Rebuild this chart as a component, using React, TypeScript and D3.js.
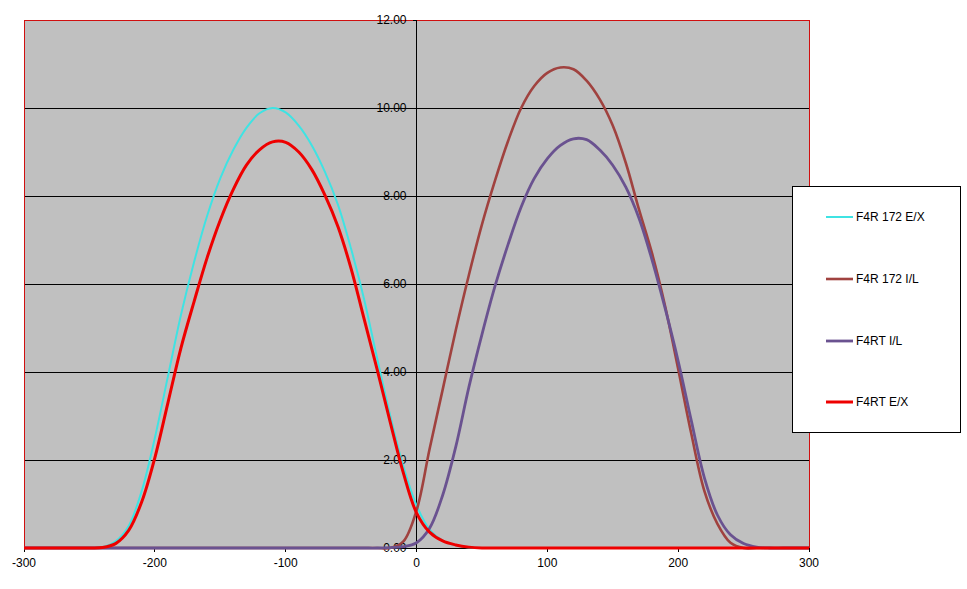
import React from "react";
import * as d3 from "d3";

// cam angle (deg) sampled every 10
const angles: number[] = d3.range(-300, 301, 10);

// lift values, one per angle from -300 to 300
const f4r172EX: number[] = [
  0, 0, 0, 0, 0, 0, 0.02, 0.15, 0.5, 1.3, 2.5, 3.9, 5.3, 6.5, 7.55, 8.4, 9.05, 9.55, 9.88, 10.0,
  9.9, 9.6, 9.15, 8.55, 7.8, 6.8, 5.65, 4.3, 3.0, 1.85, 0.97, 0.42, 0.17, 0.06, 0.01, 0, 0, 0, 0, 0,
  0, 0, 0, 0, 0, 0, 0, 0, 0, 0, 0, 0, 0, 0, 0, 0, 0, 0, 0, 0, 0,
];
const f4r172IL: number[] = [
  0, 0, 0, 0, 0, 0, 0, 0, 0, 0, 0, 0, 0, 0, 0, 0, 0, 0, 0, 0,
  0, 0, 0, 0, 0, 0, 0, 0, 0, 0.15, 0.85, 2.25, 3.6, 4.95, 6.2, 7.35, 8.35, 9.25, 10.0, 10.5,
  10.8, 10.92, 10.88, 10.62, 10.2, 9.6, 8.75, 7.7, 6.7, 5.5, 4.07, 2.6, 1.3, 0.55, 0.12, 0, 0, 0, 0, 0, 0,
];
const f4rtIL: number[] = [
  0, 0, 0, 0, 0, 0, 0, 0, 0, 0, 0, 0, 0, 0, 0, 0, 0, 0, 0, 0,
  0, 0, 0, 0, 0, 0, 0, 0, 0.01, 0.03, 0.12, 0.45, 1.2, 2.3, 3.65, 4.85, 5.95, 6.9, 7.75, 8.4,
  8.85, 9.15, 9.3, 9.28, 9.05, 8.7, 8.2, 7.5, 6.55, 5.45, 4.25, 2.9, 1.6, 0.75, 0.3, 0.1, 0.02, 0, 0, 0, 0,
];
const f4rtEX: number[] = [
  0, 0, 0, 0, 0, 0, 0.01, 0.1, 0.4, 1.05, 2.05, 3.3, 4.55, 5.6, 6.6, 7.45, 8.15, 8.7, 9.05, 9.23,
  9.22, 9.0, 8.6, 8.02, 7.3, 6.35, 5.2, 4.05, 2.85, 1.7, 0.8, 0.36, 0.16, 0.07, 0.02, 0, 0, 0, 0, 0,
  0, 0, 0, 0, 0, 0, 0, 0, 0, 0, 0, 0, 0, 0, 0, 0, 0, 0, 0, 0, 0,
];

const seriesNames: string[] = ["F4R 172 E/X", "F4R 172 I/L", "F4RT I/L", "F4RT E/X"];
const seriesValues: number[][] = [f4r172EX, f4r172IL, f4rtIL, f4rtEX];
const seriesColors: string[] = ["#3FE3E3", "#A0423F", "#6A5290", "#EE0000"];
const seriesWidths: number[] = [2, 2.6, 2.8, 3];

const xTicks: number[] = [-300, -200, -100, 0, 100, 200, 300];
const yTicks: number[] = [0, 2, 4, 6, 8, 10, 12];

const W = 967;
const H = 589;

export default function App() {
  const x = d3.scaleLinear().domain([-300, 300]).range([24, 809]);
  const y = d3.scaleLinear().domain([0, 12]).range([548, 20]);
  const line = d3
    .line<number>()
    .x((_, i) => x(angles[i]))
    .y((d) => y(Math.max(0, d)))
    .curve(d3.curveCatmullRom.alpha(0.5));

  const font = "Arial, 'Liberation Sans', sans-serif";
  const legendRows = [217, 279, 341, 402];

  return (
    <svg
      width={W}
      height={H}
      style={{ position: "absolute", left: 0, top: 0, background: "#fff" }}
      fontFamily={font}
      fontSize={12}
    >
      {/* plot area */}
      <rect x={x(-300)} y={y(12)} width={x(300) - x(-300)} height={y(0) - y(12)} fill="#C0C0C0" />

      {/* gridlines */}
      {yTicks.slice(1, -1).map((t) => (
        <line key={t} x1={x(-300)} x2={x(300)} y1={y(t)} y2={y(t)} stroke="#000" strokeWidth={1} shapeRendering="crispEdges" />
      ))}
      <rect
        x={x(-300)}
        y={y(12)}
        width={x(300) - x(-300)}
        height={y(0) - y(12)}
        fill="none"
        stroke="#D01010"
        strokeWidth={1}
        shapeRendering="crispEdges"
      />

      {/* y axis at x = 0 */}
      <line x1={x(0)} x2={x(0)} y1={y(12)} y2={y(0)} stroke="#000" shapeRendering="crispEdges" />
      {yTicks.map((t) => (
        <g key={t}>
          <line x1={x(0) - 4} x2={x(0)} y1={y(t)} y2={y(t)} stroke="#000" shapeRendering="crispEdges" />
          <text x={x(0) - 10} y={y(t)} dy="0.35em" textAnchor="end" fill="#000">
            {d3.format(".2f")(t)}
          </text>
        </g>
      ))}

      {/* x axis */}
      <line x1={x(-300)} x2={x(300)} y1={y(0)} y2={y(0)} stroke="#000" shapeRendering="crispEdges" />
      {xTicks.map((t) => (
        <g key={t}>
          <line x1={x(t)} x2={x(t)} y1={y(0)} y2={y(0) + 4} stroke="#000" shapeRendering="crispEdges" />
          <text x={x(t)} y={567} textAnchor="middle" fill="#000">
            {t}
          </text>
        </g>
      ))}

      {/* series */}
      {seriesValues.map((vals, i) => (
        <path
          key={seriesNames[i]}
          d={line(vals) || ""}
          fill="none"
          stroke={seriesColors[i]}
          strokeWidth={seriesWidths[i]}
          strokeLinejoin="round"
        />
      ))}

      {/* legend */}
      <rect x={792.5} y={186.5} width={168} height={246} fill="#fff" stroke="#000" strokeWidth={1} />
      {seriesNames.map((name, i) => (
        <g key={name}>
          <line x1={826} x2={853} y1={legendRows[i]} y2={legendRows[i]} stroke={seriesColors[i]} strokeWidth={seriesWidths[i]} />
          <text x={856} y={legendRows[i]} dy="0.35em" fill="#000">
            {name}
          </text>
        </g>
      ))}
    </svg>
  );
}
